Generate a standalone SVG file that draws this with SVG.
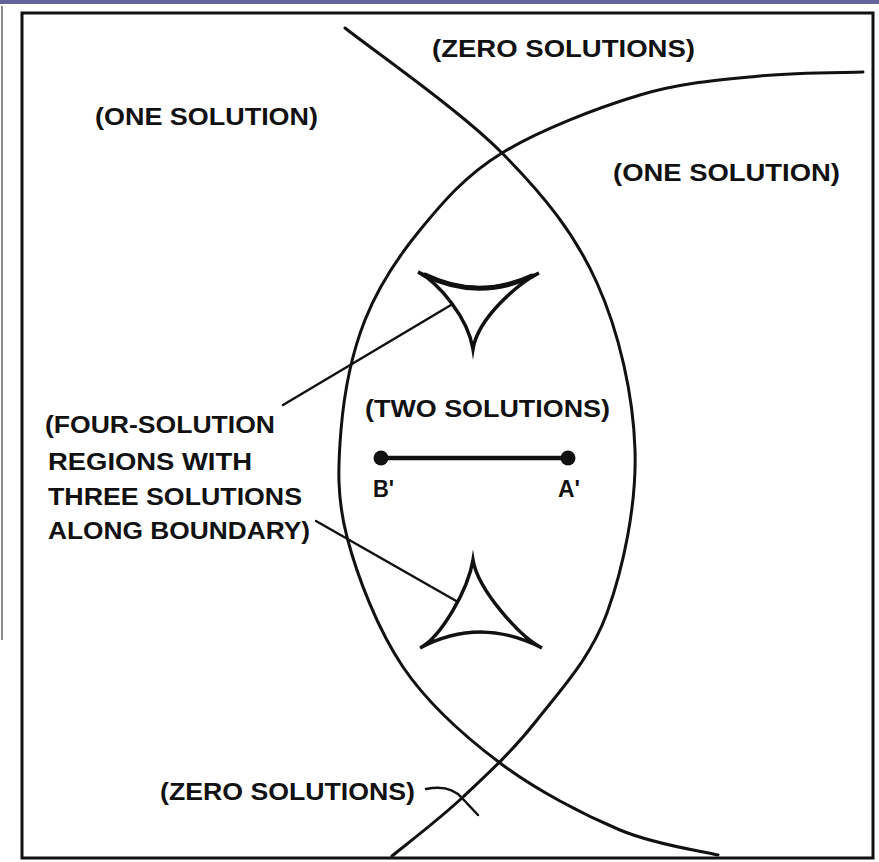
<svg xmlns="http://www.w3.org/2000/svg" width="879" height="862" viewBox="0 0 879 862">
<style>
.ln{fill:none;stroke:#111;stroke-width:3;stroke-linecap:round;stroke-linejoin:round}
.ld{fill:none;stroke:#111;stroke-width:2.5;stroke-linecap:round}
.dl{fill:none;stroke:#111;stroke-width:3.5;stroke-linejoin:miter;stroke-miterlimit:20}
.t{font-family:"Liberation Sans",Arial,sans-serif;font-weight:bold;font-size:24px;fill:#111}
</style>
<rect x="0" y="0" width="879" height="862" fill="#ffffff"/>
<rect x="0" y="0" width="879" height="4" fill="#64649a"/>
<line x1="2" y1="6" x2="2" y2="640" stroke="#666" stroke-width="1.5"/>
<g id="frame">
<rect x="22" y="13" width="851" height="845" fill="none" stroke="#111" stroke-width="3"/>
</g>
<g id="curves">
<path id="curveA" class="ln" d="M345,28 C371.2,48.8 460,110.5 502,153 C544,195.5 574.8,233.5 597,283 C619.2,332.5 633.3,395 635,450 C636.7,505 623.3,568 607,613 C590.7,658 561,689.3 537,720 C513,750.7 487.2,774.3 463,797 C438.8,819.7 403.8,846.2 392,856"/>
<path id="curveB" class="ln" d="M863,72 C845.8,72.7 797.2,72.2 760,76 C722.8,79.8 683,82.2 640,95 C597,107.8 538.7,130.5 502,153 C465.3,175.5 442.8,202.2 420,230 C397.2,257.8 378.2,286.7 365,320 C351.8,353.3 344,393.8 341,430 C338,466.2 336.7,497.5 347,537 C357.3,576.5 377.5,629.3 403,667 C428.5,704.7 463.8,735.8 500,763 C536.2,790.2 583.7,814.7 620,830 C656.3,845.3 701.7,850.8 718,855"/>
</g>
<g id="deltoid-upper">
<path class="dl" d="M418,272 Q478,303 539,273 C518,283.5 478,318 473,349 C468,318 439,283 418,272 Z"/>
<path d="M425,275 Q478,301 532,276" fill="none" stroke="#111" stroke-width="5" stroke-linecap="round"/>
</g>
<g id="deltoid-lower">
<path class="dl" d="M473,560 C478,590 520,637 542,648 Q480,616 420,648 C441,637 468,590 473,560 Z"/>
</g>
<g id="segment-BA">
<line x1="381" y1="458" x2="568" y2="458" stroke="#111" stroke-width="4.5"/>
<circle cx="381" cy="458" r="7.5" fill="#111"/>
<circle cx="568" cy="458" r="7.5" fill="#111"/>
<text class="t" x="373" y="497" textLength="21" lengthAdjust="spacingAndGlyphs" font-size="22">B'</text>
<text class="t" x="558" y="497" textLength="22" lengthAdjust="spacingAndGlyphs" font-size="22">A'</text>
</g>
<g id="label-zero-top"><text class="t" x="432" y="57" textLength="263" lengthAdjust="spacingAndGlyphs">(ZERO SOLUTIONS)</text></g>
<g id="label-one-left"><text class="t" x="95" y="125" textLength="223" lengthAdjust="spacingAndGlyphs">(ONE SOLUTION)</text></g>
<g id="label-one-right"><text class="t" x="613" y="181" textLength="227" lengthAdjust="spacingAndGlyphs">(ONE SOLUTION)</text></g>
<g id="label-two"><text class="t" x="365" y="417" textLength="245" lengthAdjust="spacingAndGlyphs">(TWO SOLUTIONS)</text></g>
<g id="label-four">
<text class="t" x="45" y="433" textLength="230" lengthAdjust="spacingAndGlyphs">(FOUR-SOLUTION</text>
<text class="t" x="48" y="470" textLength="204" lengthAdjust="spacingAndGlyphs">REGIONS WITH</text>
<text class="t" x="48" y="505" textLength="254" lengthAdjust="spacingAndGlyphs">THREE SOLUTIONS</text>
<text class="t" x="48" y="539" textLength="262" lengthAdjust="spacingAndGlyphs">ALONG BOUNDARY)</text>
</g>
<g id="label-zero-bottom"><text class="t" x="160" y="800" textLength="255" lengthAdjust="spacingAndGlyphs">(ZERO SOLUTIONS)</text></g>
<g id="connectors">
<line class="ld" x1="283" y1="405" x2="451" y2="305"/>
<line class="ld" x1="316" y1="521" x2="458" y2="602"/>
<path class="ld" d="M426,789 Q450,784 462,798 L478,815"/>
</g>
</svg>
